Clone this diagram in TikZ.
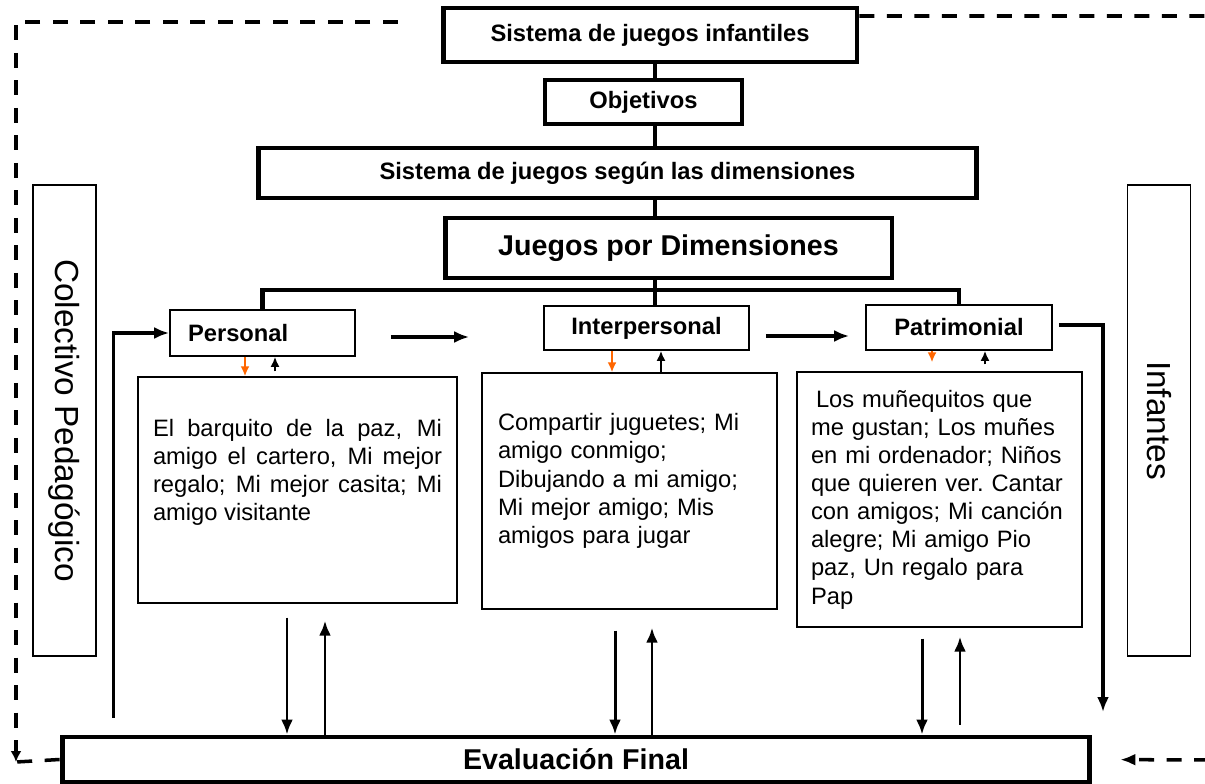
\documentclass[tikz,border=0pt]{standalone}
\usepackage{fontspec}
\setmainfont{Liberation Sans}
\usetikzlibrary{arrows.meta}

\definecolor{downorange}{RGB}{255,102,0}

\begin{document}
\begin{tikzpicture}[x=0.02cm, y=-0.02cm,
  heavybox/.style={draw, line width=2.8pt, inner sep=0pt, font=\bfseries\fontsize{13.5}{16}\selectfont},
  dimbox/.style={draw, line width=1pt, inner sep=0pt, font=\bfseries\fontsize{13.5}{16}\selectfont},
  gamebox/.style={draw, line width=0.8pt, inner sep=0pt, font=\fontsize{13.5}{16}\selectfont},
  sidebox/.style={draw, line width=0.8pt, inner sep=0pt, rotate=-90, font=\fontsize{19}{22}\selectfont},
  trunkline/.style={line width=2.5pt},
  flow/.style={line width=1.8pt, -{Latex[length=3mm,width=2.4mm]}},
  feedback/.style={line width=1.9pt, -{Latex[length=3mm,width=2.4mm]}},
  updown/.style={line width=1.7pt, -{Latex[length=3mm,width=2.4mm]}},
  tinyup/.style={line width=1pt, -{Latex[length=2mm,width=1.8mm]}},
  tinydown/.style={line width=1.1pt, -{Latex[length=2mm,width=1.8mm]}, downorange},
  loop/.style={line width=2pt, dash pattern=on 0.3cm off 0.25cm}]

\useasboundingbox (0,0) rectangle (1205,784);

\node[heavybox, minimum width=8.28cm, minimum height=1.08cm] (sis) at (650,35) {Sistema de juegos infantiles};
\node[heavybox, line width=2.2pt, minimum width=3.94cm, minimum height=0.88cm] (obj) at (643.5,102) {Objetivos};
\node[heavybox, minimum width=14.38cm, minimum height=1cm] (dim) at (617.5,173) {Sistema de juegos según las dimensiones};
\node[heavybox, font=\bfseries\fontsize{16.3}{19}\selectfont, minimum width=8.94cm, minimum height=1.2cm] (jpd) at (668.5,248) {Juegos por Dimensiones};

\node[dimbox, inner xsep=0.36cm, text width=2.98cm, align=left, minimum height=0.92cm] (per) at (262.5,333) {Personal};
\node[dimbox, minimum width=4.1cm, minimum height=0.88cm] (inter) at (646.5,328) {Interpersonal};
\node[dimbox, minimum width=3.72cm, minimum height=0.9cm] (pat) at (959,327.5) {Patrimonial};

\node[gamebox, inner xsep=0.3cm, text width=5.78cm, align=justify, minimum height=4.52cm] (perc) at (297.5,490) {El barquito de la paz, Mi\linebreak amigo el cartero, Mi mejor\linebreak regalo; Mi mejor casita; Mi\linebreak amigo visitante\rule[-0.8cm]{0pt}{0.8cm}};
\node[gamebox, inner xsep=0.32cm, text width=5.26cm, align=left, minimum height=4.72cm] (interc) at (629.5,491) {Compartir juguetes; Mi\\amigo conmigo;\\Dibujando a mi amigo;\\Mi mejor amigo; Mis\\amigos para jugar\rule[-0.5cm]{0pt}{0.5cm}};
\node[gamebox, inner xsep=0.28cm, text width=5.14cm, align=left, minimum height=5.1cm] (patc) at (939.5,499.5) {\hspace{0.1cm}Los muñequitos que\\me gustan; Los muñes\\en mi ordenador; Niños\\que quieren ver.\ Cantar\\con amigos; Mi canción\\alegre; Mi amigo Pio\\paz, Un regalo para\\Pap};

\node[sidebox, minimum width=9.42cm, minimum height=1.26cm] (col) at (64.5,420.5) {Colectivo Pedagógico};
\node[sidebox, minimum width=9.42cm, minimum height=1.26cm] (inf) at (1159,420.5) {Infantes};

\node[heavybox, font=\bfseries\fontsize{16.3}{19}\selectfont, minimum width=20.56cm, minimum height=0.9cm] (eval) at (576,759.5) {Evaluación Final};

\coordinate (trunk) at (655,0);
\coordinate (bar) at (0,290);
\draw[trunkline] (trunk |- sis.south) -- (trunk |- obj.north);
\draw[trunkline] (trunk |- obj.south) -- (trunk |- dim.north);
\draw[trunkline] (trunk |- dim.south) -- (trunk |- jpd.north);
\draw[trunkline] (trunk |- jpd.south) -- (trunk |- inter.north);
\draw[trunkline] (per.north) -- (per.north |- bar) -- (pat.north |- bar) -- (pat.north);

\draw[flow, shorten <=0.7cm, shorten >=1.48cm] ([yshift=-0.08cm]per.east) -- ([yshift=-0.08cm]per.east -| inter.west);
\draw[flow, shorten <=0.32cm, shorten >=0.32cm] ([yshift=-0.16cm]inter.east) -- ([yshift=-0.16cm]inter.east -| pat.west);

\draw[tinydown] ([xshift=-0.35cm]per.south) -- ([xshift=-0.35cm]per.south |- perc.north);
\draw[tinyup, shorten <=0.1cm] ([xshift=0.25cm]per.south |- perc.north) -- ([xshift=0.25cm]per.south);
\draw[tinydown] ([xshift=-0.69cm]inter.south) -- ([xshift=-0.69cm]inter.south |- interc.north);
\draw[tinyup] ([xshift=0.29cm]inter.south |- interc.north) -- ([xshift=0.29cm]inter.south);
\draw[tinydown, shorten >=0.18cm] ([xshift=-0.54cm]pat.south) -- ([xshift=-0.54cm]pat.south |- patc.north);
\draw[tinyup, shorten <=0.14cm] ([xshift=0.52cm]pat.south |- patc.north) -- ([xshift=0.52cm]pat.south);

\draw[updown, shorten <=0.28cm] ([xshift=-0.21cm]perc.south) -- ([xshift=-0.21cm]perc.south |- eval.north);
\draw[updown, shorten >=0.34cm] ([xshift=0.55cm]perc.south |- eval.north) -- ([xshift=0.55cm]perc.south);
\draw[updown, shorten <=0.42cm] ([xshift=-0.29cm]interc.south) -- ([xshift=-0.29cm]interc.south |- eval.north);
\draw[updown, shorten >=0.36cm] ([xshift=0.45cm]interc.south |- eval.north) -- ([xshift=0.45cm]interc.south);
\draw[updown, shorten <=0.22cm] ([xshift=-0.35cm]patc.south) -- ([xshift=-0.35cm]patc.south |- eval.north);
\draw[updown, shorten <=0.2cm, shorten >=0.18cm] ([xshift=0.41cm]patc.south |- eval.north) -- ([xshift=0.41cm]patc.south);

\draw[feedback, shorten <=0.34cm] ([xshift=1.08cm]eval.north west) |- (per.west);
\coordinate (fbend) at (1103,712);
\draw[feedback, shorten <=0.12cm] ([yshift=0.05cm]pat.east) -| (fbend);

\coordinate (lcorner) at (16,762);
\coordinate (rtop) at (1209,16);
\coordinate (rbot) at (1209,760);
\draw[loop, -{Latex[length=2.2mm,width=2.2mm]}, shorten <=0.86cm] ([yshift=0.26cm]sis.west) -| (lcorner);
\draw[loop] (eval.west) -- (lcorner);
\draw[loop] ([yshift=0.38cm]sis.east) -- (rtop) -- (rbot);
\draw[loop, -{Latex[length=3mm,width=2.4mm]}, shorten >=0.56cm] (rbot) -- (eval.east);
\end{tikzpicture}
\end{document}
